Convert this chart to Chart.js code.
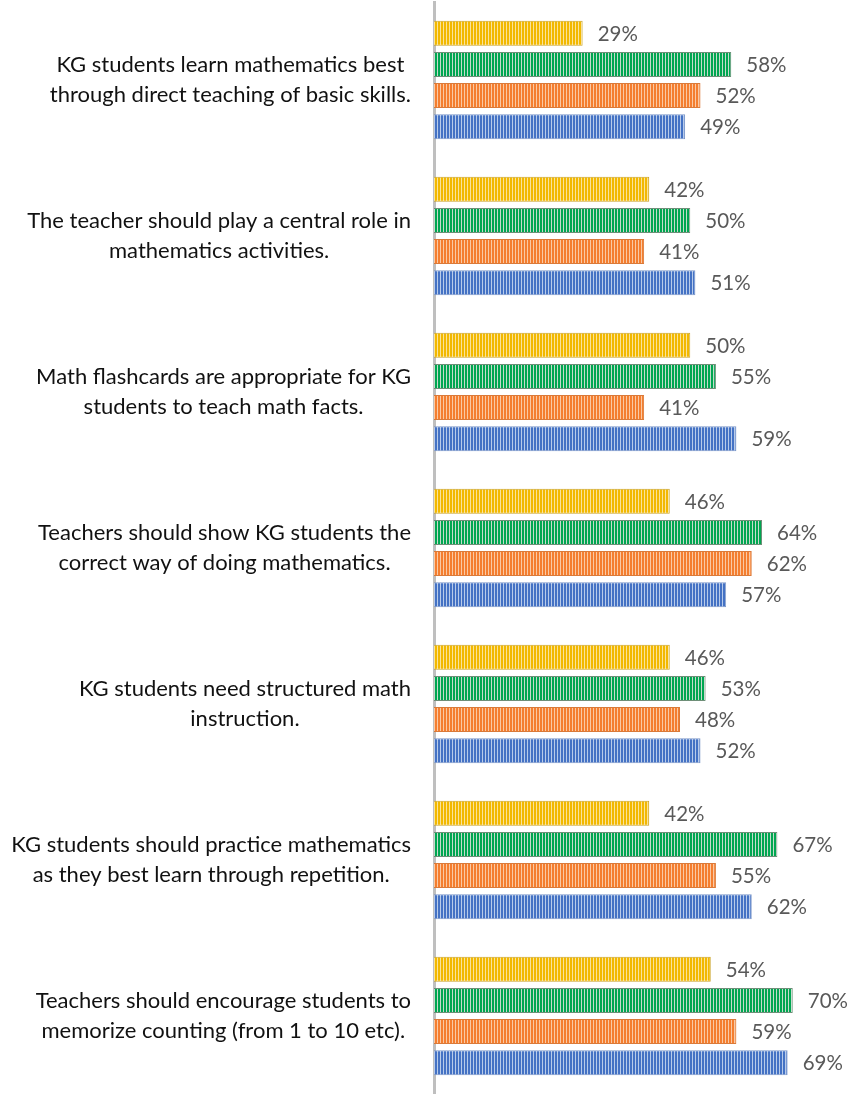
<!DOCTYPE html>
<html>
<head>
<meta charset="utf-8">
<script src="https://cdn.jsdelivr.net/npm/chart.js@4"></script>
<style>
  html, body { margin: 0; padding: 0; background: #fff; }
  #wrap { width: 854px; height: 1094px; position: relative; }
</style>
</head>
<body>
<div id="wrap"><canvas id="chart"></canvas></div>
<script>
/* --- Data --- */

const statements = [
  ['KG students learn mathematics best', 'through direct teaching of basic skills.'],
  ['The teacher should play a central role in', 'mathematics activities.'],
  ['Math flashcards are appropriate for KG', 'students to teach math facts.'],
  ['Teachers should show KG students the', 'correct way of doing mathematics.'],
  ['KG students need structured math', 'instruction.'],
  ['KG students should practice mathematics', 'as they best learn through repetition.'],
  ['Teachers should encourage students to', 'memorize counting (from 1 to 10 etc).']
];

const seriesNames = ['Series 1', 'Series 2', 'Series 3', 'Series 4'];

// top to bottom inside each group: yellow, green, orange, blue
const yellowValues = [29, 42, 50, 46, 46, 42, 54];
const greenValues  = [58, 50, 55, 64, 53, 67, 70];
const orangeValues = [52, 41, 41, 62, 48, 55, 59];
const blueValues   = [49, 51, 59, 57, 52, 62, 69];

const LABEL_FONT = "22px Lato, 'Noto Sans', sans-serif";
const VALUE_FONT = "20.5px Lato, 'Noto Sans', sans-serif";

/* --- Striped fills (vertical stripes, 2px colour + 1px tint) --- */

function stripes(main, light) {
  const c = document.createElement('canvas');
  c.width = 3;
  c.height = 1;
  const g = c.getContext('2d');
  g.fillStyle = main;
  g.fillRect(0, 0, 2, 1);
  g.fillStyle = light;
  g.fillRect(2, 0, 1, 1);
  return g.createPattern(c, 'repeat');
}

const PALETTE = [
  { fill: stripes('#F2B800', '#FAE39A'), edge: '#C9A227' },
  { fill: stripes('#00A651', '#C4DCCB'), edge: '#6E8F78' },
  { fill: stripes('#F47E2F', '#FAC9A4'), edge: '#D97A3A' },
  { fill: stripes('#4472C4', '#B8CBEA'), edge: '#7C97C8' }
];

/* --- Plugins: wrapped category labels + value labels --- */

const categoryLabels = {
  id: 'categoryLabels',
  afterDraw(chart) {
    const { ctx } = chart;
    const y = chart.scales.y;
    const rightEdge = 411;
    const lineHeight = 30;
    ctx.save();
    ctx.font = LABEL_FONT;
    ctx.fillStyle = '#111111';
    ctx.textAlign = 'center';
    ctx.textBaseline = 'middle';
    statements.forEach((lines, i) => {
      const widest = Math.max(...lines.map(l => ctx.measureText(l).width));
      const cx = rightEdge - widest / 2;
      const cy = y.getPixelForTick(i);
      lines.forEach((line, j) => {
        ctx.fillText(line, cx, cy + (j - (lines.length - 1) / 2) * lineHeight);
      });
    });
    ctx.restore();
  }
};

const valueLabels = {
  id: 'valueLabels',
  afterDatasetsDraw(chart) {
    const { ctx } = chart;
    ctx.save();
    ctx.font = VALUE_FONT;
    ctx.fillStyle = '#595959';
    ctx.textAlign = 'left';
    ctx.textBaseline = 'middle';
    chart.data.datasets.forEach((ds, di) => {
      chart.getDatasetMeta(di).data.forEach((bar, i) => {
        ctx.fillText(ds.data[i] + '%', bar.x + 15, bar.y + 1);
      });
    });
    ctx.restore();
  }
};

/* --- Chart --- */

const allValues = [yellowValues, greenValues, orangeValues, blueValues];

new Chart(document.getElementById('chart'), {
  type: 'bar',
  data: {
    labels: statements,
    datasets: allValues.map((vals, i) => ({
      label: seriesNames[i],
      data: vals,
      backgroundColor: PALETTE[i].fill,
      borderColor: PALETTE[i].edge,
      borderWidth: { top: 1, bottom: 1, right: 1, left: 0 },
      borderSkipped: 'left',
      categoryPercentage: 0.8,
      barPercentage: 0.8
    }))
  },
  options: {
    indexAxis: 'y',
    responsive: true,
    maintainAspectRatio: false,
    animation: false,
    layout: { padding: { top: 2, right: 10, bottom: -2, left: 0 } },
    plugins: {
      legend: { display: false },
      tooltip: { enabled: false }
    },
    scales: {
      x: {
        display: false,
        min: 0,
        max: 80
      },
      y: {
        z: 1,
        grid: { display: false, drawTicks: false },
        border: { display: true, color: '#BFBFBF', width: 3 },
        ticks: { display: false },
        afterFit: (scale) => { scale.width = 434; }
      }
    }
  },
  plugins: [categoryLabels, valueLabels]
});
</script>
</body>
</html>
